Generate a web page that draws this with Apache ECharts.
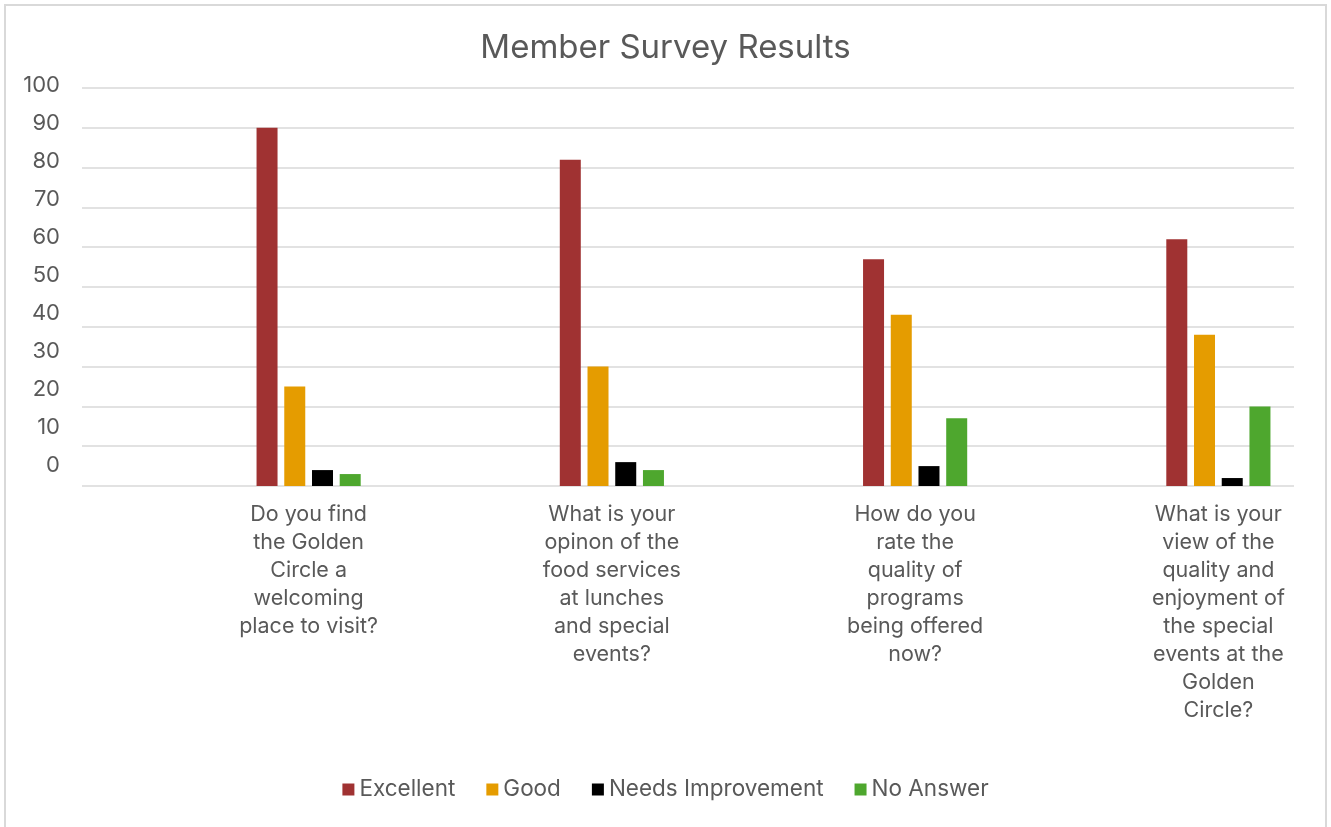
<!DOCTYPE html>
<html>
<head>
<meta charset="utf-8">
<title>Member Survey Results</title>
<script src="https://cdn.jsdelivr.net/npm/echarts@6/dist/echarts.min.js"></script>
<style>
  html, body { margin: 0; padding: 0; background: #ffffff; }
  #chart { width: 1331px; height: 827px; }
</style>
</head>
<body>
<div id="chart"></div>
<script>
// Survey questions (category axis)
const categories = [
  'Do you find\nthe Golden\nCircle a\nwelcoming\nplace to visit?',
  'What is your\nopinon of the\nfood services\nat lunches\nand special\nevents?',
  'How do you\nrate the\nquality of\nprograms\nbeing offered\nnow?',
  'What is your\nview of the\nquality and\nenjoyment of\nthe special\nevents at the\nGolden\nCircle?'
];

// Responses per question
const excellent = [90, 82, 57, 62];
const good = [25, 30, 43, 38];
const needsImprovement = [4, 6, 5, 2];
const noAnswer = [3, 4, 17, 20];

// Value-axis tick labels
const yTicks = [0, 10, 20, 30, 40, 50, 60, 70, 80, 90, 100];

const FONT = 'Inter, "Open Sans", sans-serif';
const TEXT = '#595959';
const GRID_LINE = '#D9D9D9';

const chart = echarts.init(document.getElementById('chart'), null, { renderer: 'canvas' });

function barSeries(name, data, color) {
  return {
    name: name,
    type: 'bar',
    xAxisIndex: 1,
    yAxisIndex: 1,
    data: data,
    barWidth: 21,
    barGap: '32%',
    itemStyle: { color: color },
    emphasis: { disabled: true }
  };
}

chart.setOption({
  backgroundColor: '#ffffff',
  animation: false,
  textStyle: { fontFamily: FONT },
  title: {
    text: 'Member Survey Results',
    left: 'center',
    top: 27,
    textStyle: { fontFamily: FONT, fontSize: 33, fontWeight: 'normal', color: TEXT }
  },
  graphic: [{
    type: 'rect',
    shape: { x: 5, y: 5, width: 1321, height: 840 },
    style: { fill: 'none', stroke: GRID_LINE, lineWidth: 2 },
    silent: true
  }],
  legend: {
    bottom: 21,
    left: 'center',
    icon: 'rect',
    itemWidth: 12,
    itemHeight: 12,
    itemGap: 31,
    textStyle: { fontFamily: FONT, fontSize: 22.5, color: TEXT },
    data: ['Excellent', 'Good', 'Needs Improvement', 'No Answer']
  },
  grid: [
    // gridlines
    { left: 82, right: 37, top: 88, bottom: 341, outerBoundsMode: 'none' },
    // bars and question labels
    { left: 157, width: 1213, top: 88, bottom: 341, outerBoundsMode: 'none' },
    // value labels
    { left: 82, right: 37, top: 85, bottom: 362, outerBoundsMode: 'none' }
  ],
  xAxis: [
    { gridIndex: 0, type: 'value', show: false, min: 0, max: 1 },
    {
      gridIndex: 1,
      type: 'category',
      data: categories,
      axisLine: { show: false },
      axisTick: { show: false },
      axisLabel: {
        interval: 0,
        margin: 15,
        fontFamily: FONT,
        fontSize: 21.5,
        lineHeight: 28,
        color: TEXT,
        align: 'center'
      }
    },
    { gridIndex: 2, type: 'value', show: false, min: 0, max: 1 }
  ],
  yAxis: [
    {
      gridIndex: 0,
      type: 'value',
      min: 0,
      max: 100,
      interval: 10,
      axisLine: { show: false },
      axisTick: { show: false },
      axisLabel: { show: false },
      splitLine: { lineStyle: { color: GRID_LINE, width: 1.5 } }
    },
    {
      gridIndex: 1,
      type: 'value',
      min: 0,
      max: 100,
      show: false,
      splitLine: { show: false }
    },
    {
      gridIndex: 2,
      type: 'value',
      min: yTicks[0],
      max: yTicks[yTicks.length - 1],
      interval: 10,
      axisLine: { show: false },
      axisTick: { show: false },
      splitLine: { show: false },
      axisLabel: {
        margin: 22,
        fontFamily: FONT,
        fontSize: 22,
        color: TEXT
      }
    }
  ],
  series: [
    barSeries('Excellent', excellent, '#A03232'),
    barSeries('Good', good, '#E59C00'),
    barSeries('Needs Improvement', needsImprovement, '#000000'),
    barSeries('No Answer', noAnswer, '#4EA72E')
  ]
});
</script>
</body>
</html>
